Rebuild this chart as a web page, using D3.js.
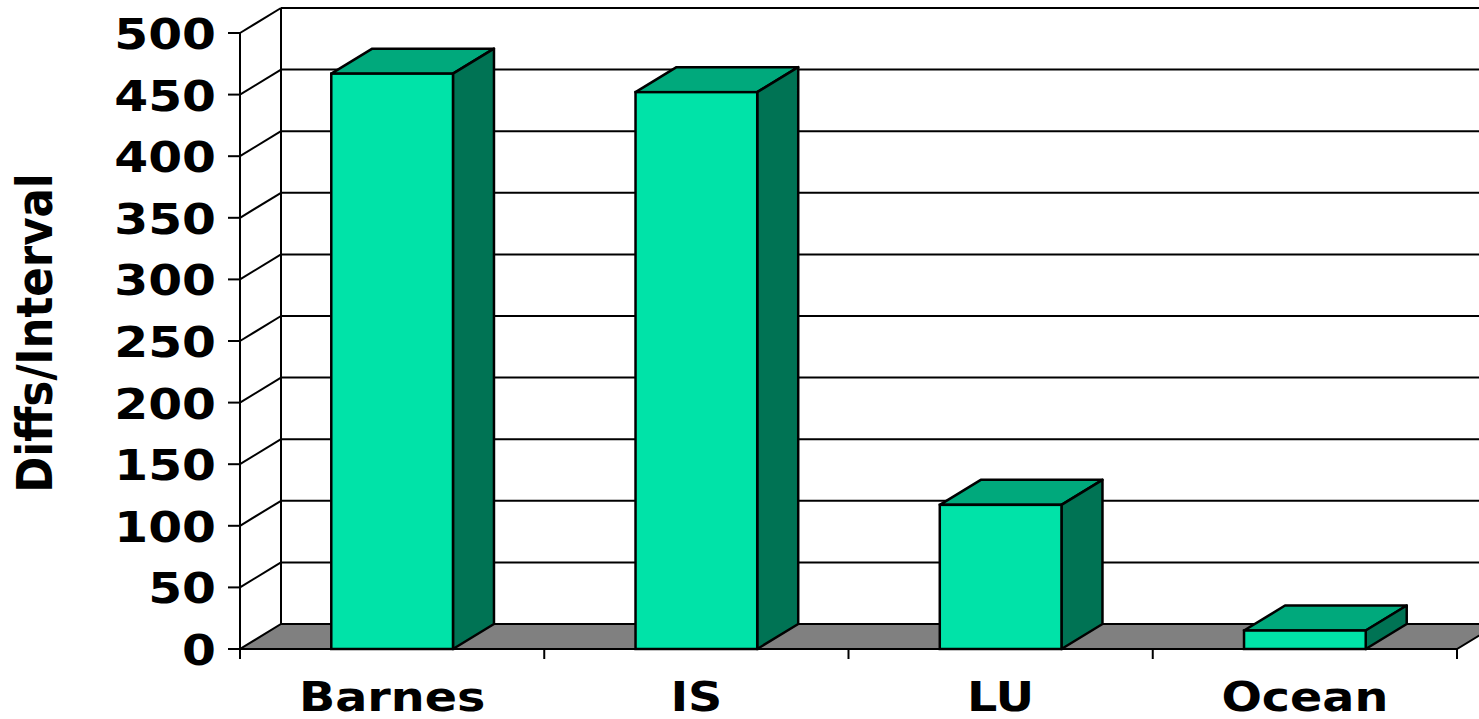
<!DOCTYPE html>
<html>
<head>
<meta charset="utf-8">
<script src="https://cdn.jsdelivr.net/npm/d3@7"></script>
<style>
  body { margin: 0; background: #fff; }
  svg { display: block; }
  text { font-family: "DejaVu Sans", Verdana, sans-serif; font-weight: bold; fill: #000; }
</style>
</head>
<body>
<svg id="chart" width="1479" height="719"></svg>
<script>
// data
const categories = ["Barnes", "IS", "LU", "Ocean"];
const values = [467, 452, 117, 15];
const yTicks = [0, 50, 100, 150, 200, 250, 300, 350, 400, 450, 500];
const yTitle = "Diffs/Interval";

// 3d depth offset of the back wall
const dx = 41, dy = -25;

const svg = d3.select("#chart");

const x = d3.scaleBand()
    .domain(categories)
    .range([240, 1457])
    .paddingInner(0.6)
    .paddingOuter(0.3);

const y = d3.scaleLinear()
    .domain([0, 500])
    .range([649, 33]);

const x0 = x.range()[0], x1 = x.range()[1];
const step = x.step();

// back wall gridlines
svg.append("g").selectAll("line")
    .data(yTicks.filter(d => d > 0))
    .join("line")
    .attr("x1", x0 + dx).attr("x2", x1 + dx)
    .attr("y1", d => y(d) + dy).attr("y2", d => y(d) + dy)
    .attr("stroke", "#000").attr("stroke-width", 2);

// back wall left edge
svg.append("line")
    .attr("x1", x0 + dx).attr("x2", x0 + dx)
    .attr("y1", y(500) + dy).attr("y2", y(0) + dy)
    .attr("stroke", "#000").attr("stroke-width", 2);

// side wall diagonals
svg.append("g").selectAll("line")
    .data(yTicks.filter(d => d > 0))
    .join("line")
    .attr("x1", x0).attr("y1", d => y(d))
    .attr("x2", x0 + dx).attr("y2", d => y(d) + dy)
    .attr("stroke", "#000").attr("stroke-width", 2);

// floor
svg.append("polygon")
    .attr("points", [[x0, y(0)], [x1, y(0)], [x1 + dx, y(0) + dy], [x0 + dx, y(0) + dy]].join(" "))
    .attr("fill", "#808080")
    .attr("stroke", "#000").attr("stroke-width", 2);

// bars
const bars = svg.append("g").selectAll("g")
    .data(categories.map((c, i) => ({ c, v: values[i] })))
    .join("g");

const colFront = "#00E3A8", colTop = "#00A97C", colSide = "#007354";

bars.append("polygon")
    .attr("points", d => {
        const a = x(d.c), b = a + x.bandwidth(), t = y(d.v);
        return [[a, t], [a + dx, t + dy], [b + dx, t + dy], [b, t]].join(" ");
    })
    .attr("fill", colTop).attr("stroke", "#000").attr("stroke-width", 2.5).attr("stroke-linejoin", "round");

bars.append("polygon")
    .attr("points", d => {
        const b = x(d.c) + x.bandwidth(), t = y(d.v), z = y(0);
        return [[b, t], [b + dx, t + dy], [b + dx, z + dy], [b, z]].join(" ");
    })
    .attr("fill", colSide).attr("stroke", "#000").attr("stroke-width", 2.5).attr("stroke-linejoin", "round");

bars.append("rect")
    .attr("x", d => x(d.c))
    .attr("y", d => y(d.v))
    .attr("width", x.bandwidth())
    .attr("height", d => y(0) - y(d.v))
    .attr("fill", colFront).attr("stroke", "#000").attr("stroke-width", 2.5);

// front y axis
svg.append("line")
    .attr("x1", x0).attr("x2", x0)
    .attr("y1", y(500)).attr("y2", y(0) + 10)
    .attr("stroke", "#000").attr("stroke-width", 2);

svg.append("g").selectAll("line")
    .data(yTicks)
    .join("line")
    .attr("x1", x0 - 12).attr("x2", x0)
    .attr("y1", d => y(d)).attr("y2", d => y(d))
    .attr("stroke", "#000").attr("stroke-width", 2);

svg.append("g").selectAll("text")
    .data(yTicks)
    .join("text")
    .attr("transform", d => `translate(216,${y(d) + 16}) scale(1.16,1)`)
    .attr("text-anchor", "end")
    .style("font-size", "42px")
    .text(d => d);

// x axis ticks at category boundaries
svg.append("g").selectAll("line")
    .data(d3.range(1, categories.length + 1))
    .join("line")
    .attr("x1", i => x0 + i * step).attr("x2", i => x0 + i * step)
    .attr("y1", y(0)).attr("y2", y(0) + 10)
    .attr("stroke", "#000").attr("stroke-width", 2);

svg.append("g").selectAll("text")
    .data(categories)
    .join("text")
    .attr("transform", d => `translate(${x(d) + x.bandwidth() / 2},711) scale(1.19,1)`)
    .attr("text-anchor", "middle")
    .style("font-size", "40px")
    .text(d => d);

// y axis title
svg.append("text")
    .attr("transform", "translate(52,333) rotate(-90) scale(1,1.16)")
    .attr("text-anchor", "middle")
    .style("font-size", "43.5px")
    .text(yTitle);
</script>
</body>
</html>
